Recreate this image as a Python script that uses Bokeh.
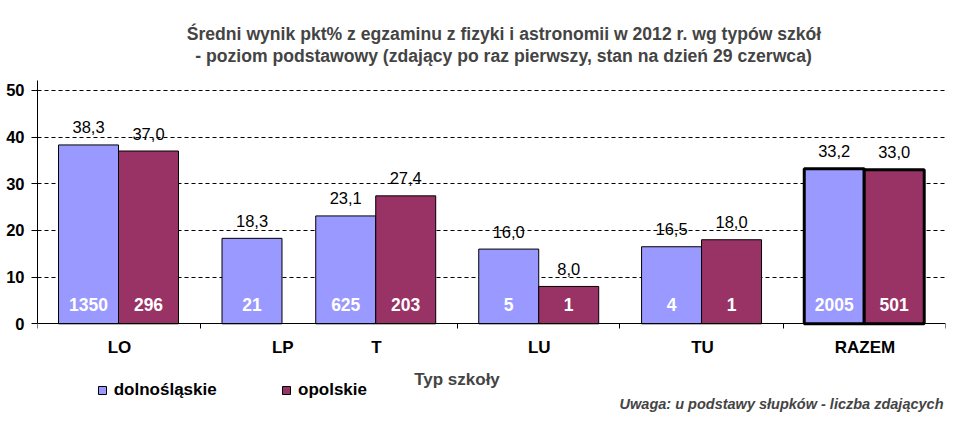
from bokeh.plotting import figure
from bokeh.models import (ColumnDataSource, Range1d, FixedTicker, Label, Legend, LegendItem)
from bokeh.core.properties import value
from bokeh.embed import file_html
from bokeh.resources import INLINE

# ---------------- data ----------------
categories = ["LO", "LP", "T", "LU", "TU", "RAZEM"]
dolnoslaskie = [38.3, 18.3, 23.1, 16.0, 16.5, 33.2]
opolskie = [37.0, None, 27.4, 8.0, 18.0, 33.0]
n_dolnoslaskie = [1350, 21, 625, 5, 4, 2005]
n_opolskie = [296, None, 203, 1, 1, 501]
y_ticks = [0, 10, 20, 30, 40, 50]
series_names = ["dolnośląskie", "opolskie"]
title_lines = ["Średni wynik pkt% z egzaminu z fizyki i astronomii w 2012 r. wg typów szkół",
               "- poziom podstawowy (zdający po raz pierwszy, stan na dzień 29 czerwca)"]
x_title = "Typ szkoły"
note = "Uwaga: u podstawy słupków - liczba zdających"

# ---------------- layout ----------------
group_centers = [0.497, 1.316, 2.075, 3.075, 4.074, 5.072]
label_positions = [0.503, 1.505, 2.08, 3.078, 4.08, 5.077]
group_edges = [0, 1, 2.577, 3.571, 4.577, 5.57]
bar_w = 0.368
W, H = 953, 425
FL, FR = 37, 8
AXIS_TOP = 80.0         # canvas y where the value axis ends
AXIS_Y = 323.3          # canvas y of value 0
Y_AXIS_MAX = 52.1
PPU = (AXIS_Y - AXIS_TOP) / Y_AXIS_MAX
Y_BOTTOM = -(H - AXIS_Y) / PPU
Y_TOP = AXIS_Y / PPU
FONT = "Liberation Sans"
C_D = "#9999FF"
C_O = "#993366"


def fmt(v):
    return f"{v:.1f}".replace(".", ",")


def lw(cat):
    return 3 if cat == "RAZEM" else 1


d_rows = dict(x=[], top=[], lbl=[], n=[], lw=[])
o_rows = dict(x=[], top=[], lbl=[], n=[], lw=[])
for cat, c, dv, ov, dn, on in zip(categories, group_centers, dolnoslaskie, opolskie,
                                  n_dolnoslaskie, n_opolskie):
    if ov is None:
        d_rows["x"].append(c)
    else:
        d_rows["x"].append(c - bar_w / 2)
        o_rows["x"].append(c + bar_w / 2)
        o_rows["top"].append(ov)
        o_rows["lbl"].append(fmt(ov))
        o_rows["n"].append(str(on))
        o_rows["lw"].append(lw(cat))
    d_rows["top"].append(dv)
    d_rows["lbl"].append(fmt(dv))
    d_rows["n"].append(str(dn))
    d_rows["lw"].append(lw(cat))

src_d = ColumnDataSource(d_rows)
src_o = ColumnDataSource(o_rows)

p = figure(width=W, height=H, output_backend="svg", toolbar_location=None,
           x_range=Range1d(0, 5.5706), y_range=Range1d(Y_BOTTOM, Y_TOP),
           min_border_left=FL, min_border_right=FR, min_border_top=0, min_border_bottom=0)
p.outline_line_color = None
p.background_fill_color = "white"
p.border_fill_color = "white"

# grid
p.xgrid.visible = False
p.ygrid.ticker = FixedTicker(ticks=[t for t in y_ticks if t > 0])
p.ygrid.grid_line_color = "black"
p.ygrid.grid_line_dash = "4 3"
p.ygrid.grid_line_width = 1

# y axis
p.yaxis.ticker = FixedTicker(ticks=y_ticks)
p.yaxis.bounds = (0, Y_AXIS_MAX)
p.yaxis.major_tick_out = 6
p.yaxis.major_tick_in = 0
p.yaxis.minor_tick_out = 0
p.yaxis.minor_tick_in = 0
p.yaxis.axis_line_color = "black"
p.yaxis.major_tick_line_color = "black"
p.yaxis.major_label_standoff = 7
p.yaxis.major_label_text_font = FONT
p.yaxis.major_label_text_font_style = "bold"
p.yaxis.major_label_text_font_size = "16.5px"
p.yaxis.major_label_text_color = "black"

# x axis (drawn at value 0)
p.xaxis.fixed_location = 0
p.xaxis.ticker = FixedTicker(ticks=label_positions, minor_ticks=group_edges)
p.xaxis.major_label_overrides = {pos: cat for pos, cat in zip(label_positions, categories)}
p.xaxis.major_tick_out = 0
p.xaxis.major_tick_in = 0
p.xaxis.minor_tick_out = 5
p.xaxis.minor_tick_in = 0
p.xaxis.minor_tick_line_color = "black"
p.xaxis.axis_line_color = "black"
p.xaxis.major_label_standoff = 9
p.xaxis.major_label_text_font = FONT
p.xaxis.major_label_text_font_style = "bold"
p.xaxis.major_label_text_font_size = "17px"
p.xaxis.major_label_text_color = "black"

# bars
rd = p.vbar(x="x", top="top", width=bar_w, source=src_d, fill_color=C_D,
            line_color="black", line_width="lw")
ro = p.vbar(x="x", top="top", width=bar_w, source=src_o, fill_color=C_O,
            line_color="black", line_width="lw")

# labels
for src in (src_d, src_o):
    p.text(x="x", y="top", text="lbl", source=src, text_font=value(FONT),
           text_font_size="16.5px", text_align="center", text_baseline="middle",
           y_offset=-17.5, text_color="black")
    p.text(x="x", y=0, text="n", source=src, text_font=value(FONT),
           text_font_style="bold", text_font_size="17.5px", text_align="center",
           text_baseline="middle", y_offset=-19, text_color="white")


def canvas_label(text, cx, cy, **kw):
    p.add_layout(Label(x=cx - FL, y=H - cy, x_units="screen", y_units="screen",
                       text=text, text_font=FONT, **kw))


canvas_label(title_lines[0], 503.5, 33, text_font_style="bold", text_font_size="17.6px",
             text_align="center", text_baseline="middle")
canvas_label(title_lines[1], 503, 55.5, text_font_style="bold", text_font_size="17.6px",
             text_align="center", text_baseline="middle")
canvas_label(x_title, 456.5, 379, text_font_style="bold", text_font_size="17px",
             text_align="center", text_baseline="middle")
canvas_label(note, 943, 403, text_font_style="bold italic", text_font_size="14.5px",
             text_align="right", text_baseline="middle")

for r, name, lx in ((rd, series_names[0], 96.7), (ro, series_names[1], 281)):
    lg = Legend(items=[LegendItem(label=name, renderers=[r], index=0)],
                location=(lx - FL, H - 400), orientation="horizontal",
                padding=0, margin=0, border_line_color=None, background_fill_alpha=0,
                glyph_width=10, glyph_height=10, label_standoff=7, label_height=20,
                label_text_font=FONT, label_text_font_style="bold",
                label_text_font_size="17px", label_text_color="black")
    p.add_layout(lg)

open("out.html", "w").write(file_html(p, INLINE))
